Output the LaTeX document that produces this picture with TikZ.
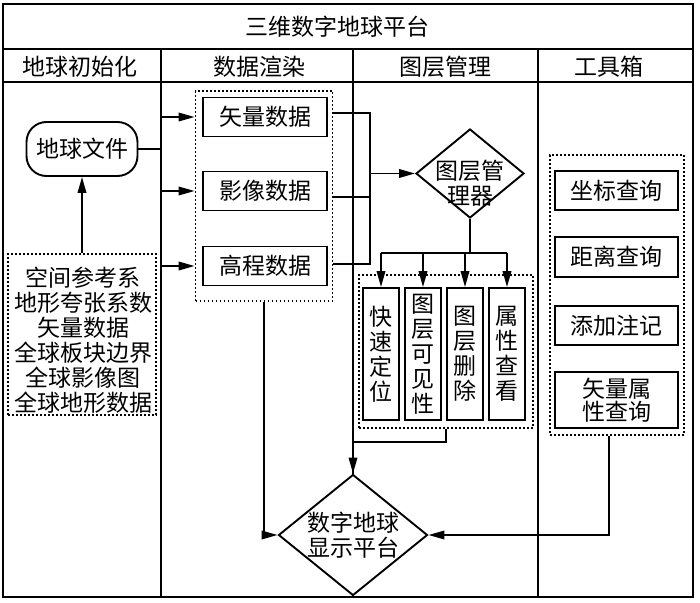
\documentclass[tikz,border=0pt]{standalone}
\usepackage{fontspec}
\newfontfamily\cjk{Noto Sans CJK SC}
\usetikzlibrary{shapes.geometric,arrows.meta}
\begin{document}
\begin{tikzpicture}[x=1pt,y=-1pt,
  txt/.style={font=\cjk\fontsize{23}{25}\selectfont, inner sep=0pt, align=center},
  lw/.style={line width=1.9pt},
  boxn/.style={txt, draw, lw, rectangle, fill=white},
  grp/.style={draw, line width=1.8pt, dash pattern=on 1.8pt off 2.2pt, inner sep=0pt},
  dmd/.style={draw, lw, diamond, inner sep=0pt, fill=white},
  conn/.style={lw},
  arr/.style={lw, -{Triangle[length=16pt,width=8.5pt]}},
]
\useasboundingbox (0,0) rectangle (700,602);
% table frame
\draw[lw] (3,4) rectangle (693,597);
\draw[lw] (3,49) -- (693,49);
\draw[lw] (3,82) -- (693,82);
\coordinate (div1) at (161,49);
\coordinate (div2) at (353,49);
\coordinate (div3) at (538,49);
\draw[lw] (div1) -- (161,597);
\draw[lw] (div2) -- (353,597);
\draw[lw] (div3) -- (538,597);
% titles
\node[txt] (title) at (337,27) {三维数字地球平台};
\node[txt] (h1) at (80,66.5) {地球初始化};
\node[txt] (h2) at (259,66.5) {数据渲染};
\node[txt] (h3) at (445,66.5) {图层管理};
\node[txt] (h4) at (609,66.5) {工具箱};
% left column
\node[boxn, rounded corners=20pt, minimum width=111pt, minimum height=54pt] (earth) at (82,149) {地球文件};
\node[grp, minimum width=148pt, minimum height=161pt] (params) at (82,334.5) {};
\node[txt] (paramstext) at (83,340) {空间参考系\\地形夸张系数\\矢量数据\\全球板块边界\\全球影像图\\全球地形数据};
% data column
\node[grp, minimum width=137pt, minimum height=210pt] (dgroup) at (264,196) {};
\node[boxn, minimum width=124pt, minimum height=39pt] (vec) at (265,117) {矢量数据};
\node[boxn, minimum width=124pt, minimum height=39pt] (img) at (265,191) {影像数据};
\node[boxn, minimum width=124pt, minimum height=39pt] (dem) at (265,266) {高程数据};
% layer column
\node[dmd, minimum width=108pt, minimum height=89pt] (mgr) at (470,173.5) {};
\node[txt] (mgrtext) at (470,183) {图层管\\理器};
\node[grp, minimum width=174pt, minimum height=153pt] (lgroup) at (446,351.5) {};
\node[boxn, minimum width=36pt, minimum height=132pt] (l1) at (381,354) {快\\速\\定\\位};
\node[boxn, minimum width=36pt, minimum height=132pt] (l2) at (423,354) {图\\层\\可\\见\\性};
\node[boxn, minimum width=36pt, minimum height=132pt] (l3) at (465,354) {图\\层\\删\\除};
\node[boxn, minimum width=36pt, minimum height=132pt] (l4) at (507,354) {属\\性\\查\\看};
% tools column
\node[grp, minimum width=134pt, minimum height=280pt] (tgroup) at (617,295) {};
\node[boxn, minimum width=123pt, minimum height=39pt] (t1) at (616.5,190.5) {坐标查询};
\node[boxn, minimum width=123pt, minimum height=40pt] (t2) at (616.5,257) {距离查询};
\node[boxn, minimum width=123pt, minimum height=39pt] (t3) at (616.5,325.5) {添加注记};
\node[boxn, minimum width=123pt, minimum height=56pt] (t4) at (616.5,400) {矢量属\\[-2pt]性查询};
% display diamond
\node[dmd, minimum width=149pt, minimum height=121pt] (disp) at (353,535) {};
\node[txt] (disptext) at (353,535.5) {数字地球\\显示平台};
% connectors
\draw[conn] (earth.east) -- (earth.east -| div1);
\draw[arr] (params.north) -- (earth.south);
\draw[arr] (vec -| div1) -- (vec -| dgroup.west);
\draw[arr] (img -| div1) -- (img -| dgroup.west);
\draw[arr] (dem -| div1) -- (dem -| dgroup.west);
\coordinate (busx) at (370,0);
\coordinate (v1) at ([yshift=4pt]vec.east);
\coordinate (v2) at ([yshift=-6pt]img.east);
\coordinate (v3) at ([yshift=2pt]dem.east);
\draw[conn] (v1 -| dgroup.east) -- (v1 -| busx) -- (v3 -| busx) -- (v3 -| dgroup.east);
\draw[conn] (v2 -| dgroup.east) -- (v2 -| busx);
\draw[arr] (mgr.west -| busx) -- (mgr.west);
\coordinate (lbus) at (0,253);
\draw[conn] (mgr.south) -- (mgr.south |- lbus);
\draw[conn] (l1.north |- lbus) -- (l4.north |- lbus);
\foreach \n in {l1,l2,l3,l4} \draw[arr] (\n.north |- lbus) -- (\n.north);
\draw[arr] (lgroup.south) -- ++(0,13) -| (disp.north);
\draw[arr] (dgroup.south) |- (disp.west);
\draw[arr] ([xshift=-8pt]tgroup.south) |- (disp.east);
\end{tikzpicture}
\end{document}
